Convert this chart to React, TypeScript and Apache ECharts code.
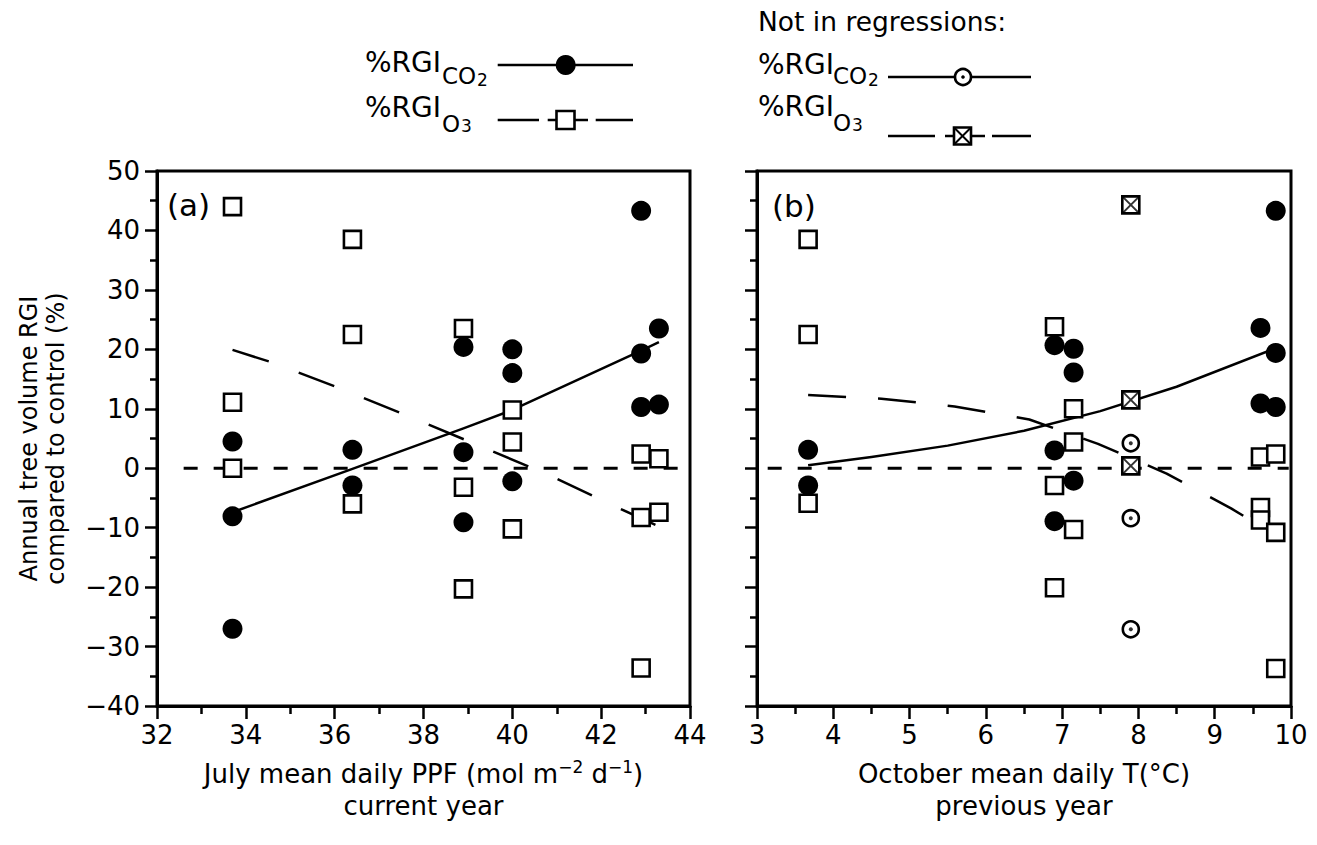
import React, { useEffect, useRef } from "react";
import * as echarts from "echarts";

const FONT = '"DejaVu Sans", "Liberation Sans", Arial, sans-serif';

// Panel (a): July mean daily PPF of the current year
const ppfCO2: [number, number][] = [
  [33.7, 4.5], [33.7, -8.1], [33.7, -27.0],
  [36.4, 3.1], [36.4, -2.9],
  [38.9, 20.4], [38.9, 2.7], [38.9, -9.1],
  [40.0, 20.0], [40.0, 16.0], [40.0, -2.2],
  [42.9, 43.3], [42.9, 19.3], [42.9, 10.3],
  [43.3, 23.5], [43.3, 10.7],
];
const ppfO3: [number, number][] = [
  [33.7, 44.0], [33.7, 11.1], [33.7, 0.0],
  [36.4, 38.5], [36.4, 22.5], [36.4, -6.0],
  [38.9, 23.5], [38.9, -3.2], [38.9, -20.3],
  [40.0, 9.8], [40.0, 4.4], [40.0, -10.2],
  [42.9, 2.4], [42.9, -8.3], [42.9, -33.6],
  [43.3, 1.6], [43.3, -7.4],
];
const ppfCO2Fit: [number, number][] = [
  [33.7, -7.4], [36.4, -0.1], [38.9, 6.7], [40.0, 9.8], [42.9, 19.8], [43.3, 21.2],
];
const ppfO3Fit: [number, number][] = [
  [33.7, 19.9], [34.55, 17.9], [36.1, 13.5], [37.65, 8.8], [40.75, -0.9], [42.25, -6.2], [43.3, -9.8],
];
const ppfZero: [number, number][] = [[32.6, 0], [43.95, 0]];

// Panel (b): October mean daily temperature of the previous year
const tempCO2: [number, number][] = [
  [3.67, 3.1], [3.67, -2.9],
  [6.9, 20.7], [6.9, 3.0], [6.9, -8.9],
  [7.15, 20.1], [7.15, 16.1], [7.15, -2.1],
  [9.6, 23.6], [9.6, 10.9],
  [9.8, 43.3], [9.8, 19.4], [9.8, 10.3],
];
const tempO3: [number, number][] = [
  [3.67, 38.5], [3.67, 22.5], [3.67, -5.9],
  [6.9, 23.8], [6.9, -2.9], [6.9, -20.1],
  [7.15, 10.0], [7.15, 4.4], [7.15, -10.3],
  [9.6, 1.9], [9.6, -6.6], [9.6, -8.7],
  [9.8, 2.4], [9.8, -10.8], [9.8, -33.7],
];
const tempCO2Excluded: [number, number][] = [[7.9, 4.2], [7.9, -8.4], [7.9, -27.1]];
const tempO3Excluded: [number, number][] = [[7.9, 44.3], [7.9, 11.5], [7.9, 0.4]];
const tempCO2Fit: [number, number][] = [
  [3.67, 0.5], [4.5, 1.9], [5.5, 3.8], [6.5, 6.3], [7.5, 9.6], [8.5, 13.7], [9.8, 20.2],
];
const tempO3Fit: [number, number][] = [
  [3.67, 12.3], [4.63, 11.7], [5.59, 10.4], [6.57, 8.2], [7.47, 4.1], [8.37, -0.9],
  [9.22, -6.8], [9.8, -11.3],
];
const tempZero: [number, number][] = [[3.14, 0], [9.97, 0]];

// Axis ranges and ticks
const yRange = { min: -40, max: 50, interval: 10 };
const ppfRange = { min: 32, max: 44, interval: 2 };
const tempRange = { min: 3, max: 10, interval: 1 };

const BLACK = "#000";

const minusFmt = (v: number) => (v < 0 ? "\u2212" + Math.abs(v) : String(v));

function xAxisCfg(gridIndex: number, range: { min: number; max: number; interval: number }, name: string) {
  return {
    type: "value",
    gridIndex,
    ...range,
    axisLine: { show: true, onZero: false, lineStyle: { color: BLACK, width: 3 } },
    axisTick: { show: true, inside: false, length: 13, lineStyle: { color: BLACK, width: 2.5 } },
    minorTick: { show: true, splitNumber: 2, length: 8, lineStyle: { color: BLACK, width: 2.5 } },
    splitLine: { show: false },
    minorSplitLine: { show: false },
    axisLabel: { fontSize: 26, color: BLACK, margin: 16, fontFamily: FONT },
    name,
    nameLocation: "middle",
    nameGap: 52,
    nameTextStyle: {
      color: BLACK,
      fontFamily: FONT,
      rich: {
        t: { fontSize: 26, lineHeight: 32, color: BLACK, fontFamily: FONT },
        sup: { fontSize: 17, lineHeight: 32, color: BLACK, fontFamily: FONT, verticalAlign: "top" },
      },
    },
  };
}

function yAxisCfg(gridIndex: number, showLabels: boolean) {
  return {
    type: "value",
    gridIndex,
    ...yRange,
    axisLine: { show: true, onZero: false, lineStyle: { color: BLACK, width: 3 } },
    axisTick: { show: true, inside: false, length: 12, lineStyle: { color: BLACK, width: 2.5 } },
    minorTick: { show: true, splitNumber: 2, length: 7, lineStyle: { color: BLACK, width: 2.5 } },
    splitLine: { show: false },
    minorSplitLine: { show: false },
    axisLabel: { show: showLabels, fontSize: 26, color: BLACK, margin: 17, fontFamily: FONT, formatter: minusFmt },
    name: showLabels ? "Annual tree volume RGI\ncompared to control (%)" : "",
    nameLocation: "middle",
    nameGap: 88,
    nameTextStyle: { color: BLACK, fontFamily: FONT, fontSize: 24, lineHeight: 27 },
  };
}

const lineSeries = (idx: number, data: [number, number][], dash: any, width = 2.5) => ({
  type: "line",
  xAxisIndex: idx,
  yAxisIndex: idx,
  data,
  showSymbol: false,
  symbol: "none",
  z: 1,
  silent: true,
  lineStyle: { color: BLACK, width, type: dash, join: "round" },
});

const filledCircles = (idx: number, data: [number, number][], z: number) => ({
  type: "scatter",
  xAxisIndex: idx,
  yAxisIndex: idx,
  data,
  symbol: "circle",
  symbolSize: 20,
  z,
  itemStyle: { color: BLACK, opacity: 1 },
});

const openSquares = (idx: number, data: [number, number][], z: number) => ({
  type: "scatter",
  xAxisIndex: idx,
  yAxisIndex: idx,
  data,
  symbol: "rect",
  symbolSize: 17,
  z,
  itemStyle: { color: "#fff", borderColor: BLACK, borderWidth: 2.6, opacity: 1 },
});

const CROSS = "path://M0,0L10,10M10,0L0,10";

function legendGraphics() {
  const txt = (x: number, y: number, text: string, size: number) => ({
    type: "text",
    x,
    y,
    silent: true,
    style: { text, fontSize: size, fontFamily: FONT, fill: BLACK, textAlign: "left", textVerticalAlign: "middle" },
  });
  const seg = (x1: number, x2: number, y: number) => ({
    type: "line",
    silent: true,
    shape: { x1, y1: y, x2, y2: y },
    style: { stroke: BLACK, lineWidth: 2.6 },
  });
  return [
    // regression symbols
    txt(365, 62.5, "%RGI", 28),
    txt(442, 75.5, "CO", 23),
    txt(477, 80, "2", 17),
    seg(497.7, 633, 65),
    { type: "circle", silent: true, shape: { cx: 565.7, cy: 65, r: 10 }, style: { fill: BLACK } },

    txt(365, 107.5, "%RGI", 28),
    txt(442, 124, "O", 23),
    txt(461, 126, "3", 17),
    seg(497.7, 539, 120),
    seg(547.7, 588, 120),
    seg(595.7, 633, 120),
    { type: "rect", silent: true, shape: { x: 556.5, y: 111, width: 18, height: 18 }, style: { fill: "#fff", stroke: BLACK, lineWidth: 2.6 } },

    // points left out of the regressions
    txt(758, 21, "Not in regressions:", 26.5),
    txt(758, 64.5, "%RGI", 28),
    txt(833, 75.5, "CO", 23),
    txt(868, 80, "2", 17),
    seg(888, 1031, 77),
    { type: "circle", silent: true, shape: { cx: 963, cy: 77, r: 8 }, style: { fill: "#fff", stroke: BLACK, lineWidth: 2.6 } },
    { type: "circle", silent: true, shape: { cx: 963, cy: 77, r: 1.8 }, style: { fill: BLACK } },

    txt(758, 106, "%RGI", 28),
    txt(833, 122.5, "O", 23),
    txt(852, 124.5, "3", 17),
    seg(888, 935, 136),
    seg(945, 985, 136),
    seg(992, 1031, 136),
    { type: "rect", silent: true, shape: { x: 954, y: 127.5, width: 17, height: 17 }, style: { fill: "#fff", stroke: BLACK, lineWidth: 2.6 } },
    { type: "line", silent: true, shape: { x1: 954, y1: 127.5, x2: 971, y2: 144.5 }, style: { stroke: BLACK, lineWidth: 2 } },
    { type: "line", silent: true, shape: { x1: 971, y1: 127.5, x2: 954, y2: 144.5 }, style: { stroke: BLACK, lineWidth: 2 } },

    // panel letters
    { type: "text", x: 167, y: 205, silent: true, style: { text: "(a)", fontSize: 31, fontFamily: FONT, fill: BLACK, textVerticalAlign: "middle" } },
    { type: "text", x: 772, y: 206, silent: true, style: { text: "(b)", fontSize: 31, fontFamily: FONT, fill: BLACK, textVerticalAlign: "middle" } },
  ];
}

export default function App() {
  const ref = useRef<HTMLDivElement>(null);

  useEffect(() => {
    document.body.style.margin = "0";
    if (!ref.current) return;
    const chart = echarts.init(ref.current, undefined, { renderer: "svg" });

    const option = {
      animation: false,
      backgroundColor: "#fff",
      textStyle: { fontFamily: FONT },
      grid: [
        { left: 157, top: 171, width: 533, height: 535, show: true, borderColor: BLACK, borderWidth: 3, containLabel: false },
        { left: 757, top: 171, width: 534, height: 535, show: true, borderColor: BLACK, borderWidth: 3, containLabel: false },
      ],
      xAxis: [
        xAxisCfg(0, ppfRange, "{t|July mean daily PPF (mol m}{sup|\u22122}{t| d}{sup|\u22121}{t|)}\n{t|current year}"),
        xAxisCfg(1, tempRange, "{t|October mean daily T(\u00B0C)}\n{t|previous year}"),
      ],
      yAxis: [yAxisCfg(0, true), yAxisCfg(1, false)],
      series: [
        // panel (a)
        lineSeries(0, ppfZero, [14, 16], 3),
        lineSeries(0, ppfCO2Fit, "solid"),
        lineSeries(0, ppfO3Fit, [38, 32]),
        filledCircles(0, ppfCO2, 3),
        openSquares(0, ppfO3, 4),

        // panel (b)
        lineSeries(1, tempZero, [14, 16], 3),
        lineSeries(1, tempCO2Fit, "solid"),
        lineSeries(1, tempO3Fit, [38, 32]),
        filledCircles(1, tempCO2.filter((p) => p[0] < 5), 3),
        openSquares(1, tempO3, 4),
        filledCircles(1, tempCO2.filter((p) => p[0] >= 5), 5),
        {
          type: "scatter",
          xAxisIndex: 1,
          yAxisIndex: 1,
          data: tempCO2Excluded,
          symbol: "circle",
          symbolSize: 16,
          z: 5,
          itemStyle: { color: "#fff", borderColor: BLACK, borderWidth: 2.6, opacity: 1 },
        },
        {
          type: "scatter",
          xAxisIndex: 1,
          yAxisIndex: 1,
          data: tempCO2Excluded,
          symbol: "circle",
          symbolSize: 4,
          z: 6,
          itemStyle: { color: BLACK },
        },
        openSquares(1, tempO3Excluded, 5),
        {
          type: "scatter",
          xAxisIndex: 1,
          yAxisIndex: 1,
          data: tempO3Excluded,
          symbol: CROSS,
          symbolSize: 16,
          z: 6,
          itemStyle: { color: "none", borderColor: BLACK, borderWidth: 2 },
        },
      ],
      graphic: legendGraphics(),
    };

    chart.setOption(option as any);
    return () => chart.dispose();
  }, []);

  return <div ref={ref} style={{ width: 1317, height: 845 }} />;
}
